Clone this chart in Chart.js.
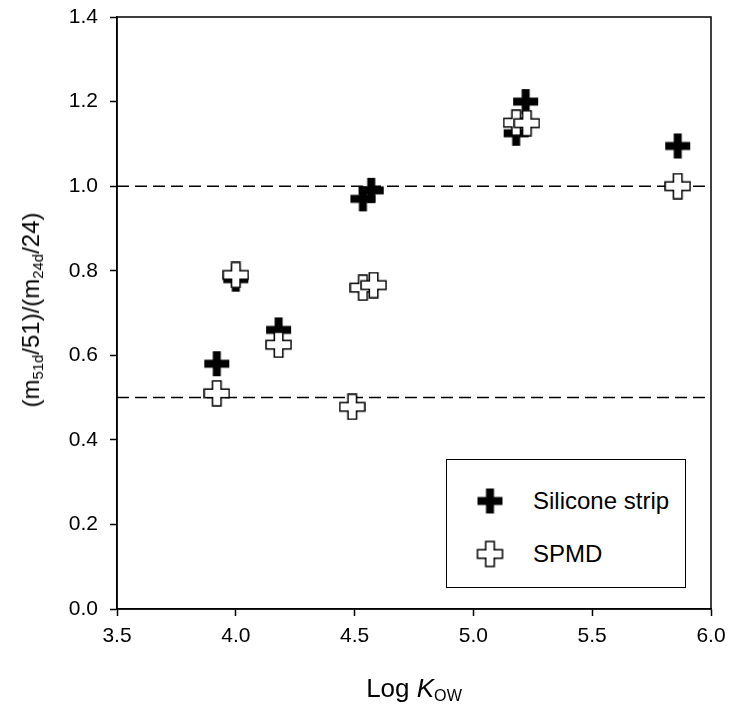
<!DOCTYPE html>
<html>
<head>
<meta charset="utf-8">
<script src="https://cdn.jsdelivr.net/npm/chart.js@4.4.1/dist/chart.umd.min.js"></script>
<style>
    body { margin: 0; background: #fff; font-family: "Liberation Sans", Arial, sans-serif; color: #000; }
    #wrap { position: relative; width: 730px; height: 717px; }
    #chart { position: absolute; left: 0; top: 0; }
    .ytitle { position: absolute; left: 31px; top: 310px; transform: translate(-50%, -50%) rotate(-90deg); font-size: 24px; white-space: nowrap; }
    .xtitle { position: absolute; left: 414px; top: 688px; transform: translate(-50%, -50%); font-size: 26px; white-space: nowrap; }
    sub { font-size: 62%; vertical-align: -0.3em; line-height: 0; }
    #legend { position: absolute; left: 446px; top: 459px; width: 238px; height: 127px; border: 1px solid #000; background: #fff; }
    .item { position: absolute; left: 0; height: 30px; width: 238px; }
    .item img { position: absolute; left: 43px; top: 15px; transform: translate(-50%, -50%); }
    .item span { position: absolute; left: 86px; top: 15px; transform: translateY(-50%); font-size: 24px; white-space: nowrap; }
</style>
</head>
<body>
<div id="wrap">
    <canvas id="chart" width="730" height="717"></canvas>
    <div class="ytitle">(m<sub>51d</sub>/51)/(m<sub>24d</sub>/24)</div>
    <div class="xtitle">Log <i>K</i><sub>OW</sub></div>
    <div id="legend">
        <div class="item" style="top:26px"><img id="legSil" alt=""><span>Silicone strip</span></div>
        <div class="item" style="top:79px"><img id="legSpmd" alt=""><span>SPMD</span></div>
    </div>
</div>
<script>
// Data
const siliconeX = [3.92, 4.00, 4.18, 4.535, 4.57, 5.18, 5.22, 5.86];
const siliconeY = [0.58, 0.78, 0.66, 0.97, 0.99, 1.125, 1.20, 1.095];
const spmdX = [3.92, 4.00, 4.18, 4.49, 4.535, 4.58, 5.18, 5.225, 5.86];
const spmdY = [0.51, 0.79, 0.625, 0.478, 0.76, 0.766, 1.15, 1.149, 1.00];
const refLevels = [0.5, 1.0];
const xTicks = [3.5, 4.0, 4.5, 5.0, 5.5, 6.0];
const yTicks = [0.0, 0.2, 0.4, 0.6, 0.8, 1.0, 1.2, 1.4];

const FONT = '"Liberation Sans", Arial, sans-serif';

// Plus-shaped marker drawn on a small canvas
function crossImage(size, arm, fill, stroke, lw) {
    const c = document.createElement('canvas');
    c.width = size + 2;
    c.height = size + 2;
    const g = c.getContext('2d');
    const o = 1, a = (size - arm) / 2, b = a + arm, s = size;
    g.beginPath();
    g.moveTo(o + a, o); g.lineTo(o + b, o); g.lineTo(o + b, o + a);
    g.lineTo(o + s, o + a); g.lineTo(o + s, o + b); g.lineTo(o + b, o + b);
    g.lineTo(o + b, o + s); g.lineTo(o + a, o + s); g.lineTo(o + a, o + b);
    g.lineTo(o, o + b); g.lineTo(o, o + a); g.lineTo(o + a, o + a);
    g.closePath();
    g.fillStyle = fill;
    g.fill();
    if (stroke) {
        g.lineWidth = lw;
        g.strokeStyle = stroke;
        g.stroke();
    }
    return c;
}

const blackCross = crossImage(25, 8, '#000');
const whiteCross = crossImage(25, 8.5, '#fff', '#000', 1.5);
document.getElementById('legSil').src = blackCross.toDataURL();
document.getElementById('legSpmd').src = whiteCross.toDataURL();

const toPoints = (xs, ys) => xs.map((x, i) => ({ x: x, y: ys[i] }));

// Box around the plot area
const frame = {
    id: 'frame',
    afterDatasetsDraw(chart) {
        const a = chart.chartArea, ctx = chart.ctx;
        ctx.save();
        ctx.strokeStyle = '#000';
        ctx.lineWidth = 1.5;
        ctx.strokeRect(a.left, a.top, a.right - a.left, a.bottom - a.top);
        ctx.restore();
    }
};

// fixed scale sizes so the plot area lands where the original has it
function fixSize(prop, size) {
    return s => {
        s[prop] = size;
        s.paddingTop = s.paddingBottom = s.paddingLeft = s.paddingRight = 0;
    };
}

const refDatasets = refLevels.map(v => ({
    data: [{ x: xTicks[0], y: v }, { x: xTicks[xTicks.length - 1], y: v }],
    showLine: true,
    borderColor: '#000',
    borderWidth: 1.5,
    borderDash: [12, 6],
    pointRadius: 0,
    order: 2
}));

new Chart(document.getElementById('chart'), {
    type: 'scatter',
    data: {
        datasets: [{
            label: 'Silicone strip',
            data: toPoints(siliconeX, siliconeY),
            pointStyle: blackCross,
            order: 1
        }, {
            label: 'SPMD',
            data: toPoints(spmdX, spmdY),
            pointStyle: whiteCross,
            order: 0
        }].concat(refDatasets)
    },
    options: {
        responsive: false,
        animation: false,
        events: [],
        layout: { autoPadding: false, padding: { left: 0, top: 17, right: 19, bottom: 0 } },
        plugins: { legend: { display: false }, tooltip: { enabled: false } },
        scales: {
            x: {
                type: 'linear',
                min: 3.5,
                max: 6.0,
                afterFit: fixSize('height', 108),
                afterBuildTicks: s => { s.ticks = xTicks.map(v => ({ value: v })); },
                ticks: { callback: v => v.toFixed(1), color: '#000', font: { family: FONT, size: 21 }, padding: 8, maxRotation: 0, autoSkip: false },
                grid: { drawOnChartArea: false, drawTicks: true, tickLength: 7, tickColor: '#000', tickWidth: 1.5 },
                border: { display: true, color: '#000', width: 1.5 }
            },
            y: {
                type: 'linear',
                min: 0,
                max: 1.4,
                afterFit: fixSize('width', 117),
                afterBuildTicks: s => { s.ticks = yTicks.map(v => ({ value: v })); },
                ticks: { callback: v => v.toFixed(1), color: '#000', font: { family: FONT, size: 21 }, padding: 12, autoSkip: false },
                grid: { drawOnChartArea: false, drawTicks: true, tickLength: 7, tickColor: '#000', tickWidth: 1.5 },
                border: { display: true, color: '#000', width: 1.5 }
            }
        }
    },
    plugins: [frame]
});
</script>
</body>
</html>
